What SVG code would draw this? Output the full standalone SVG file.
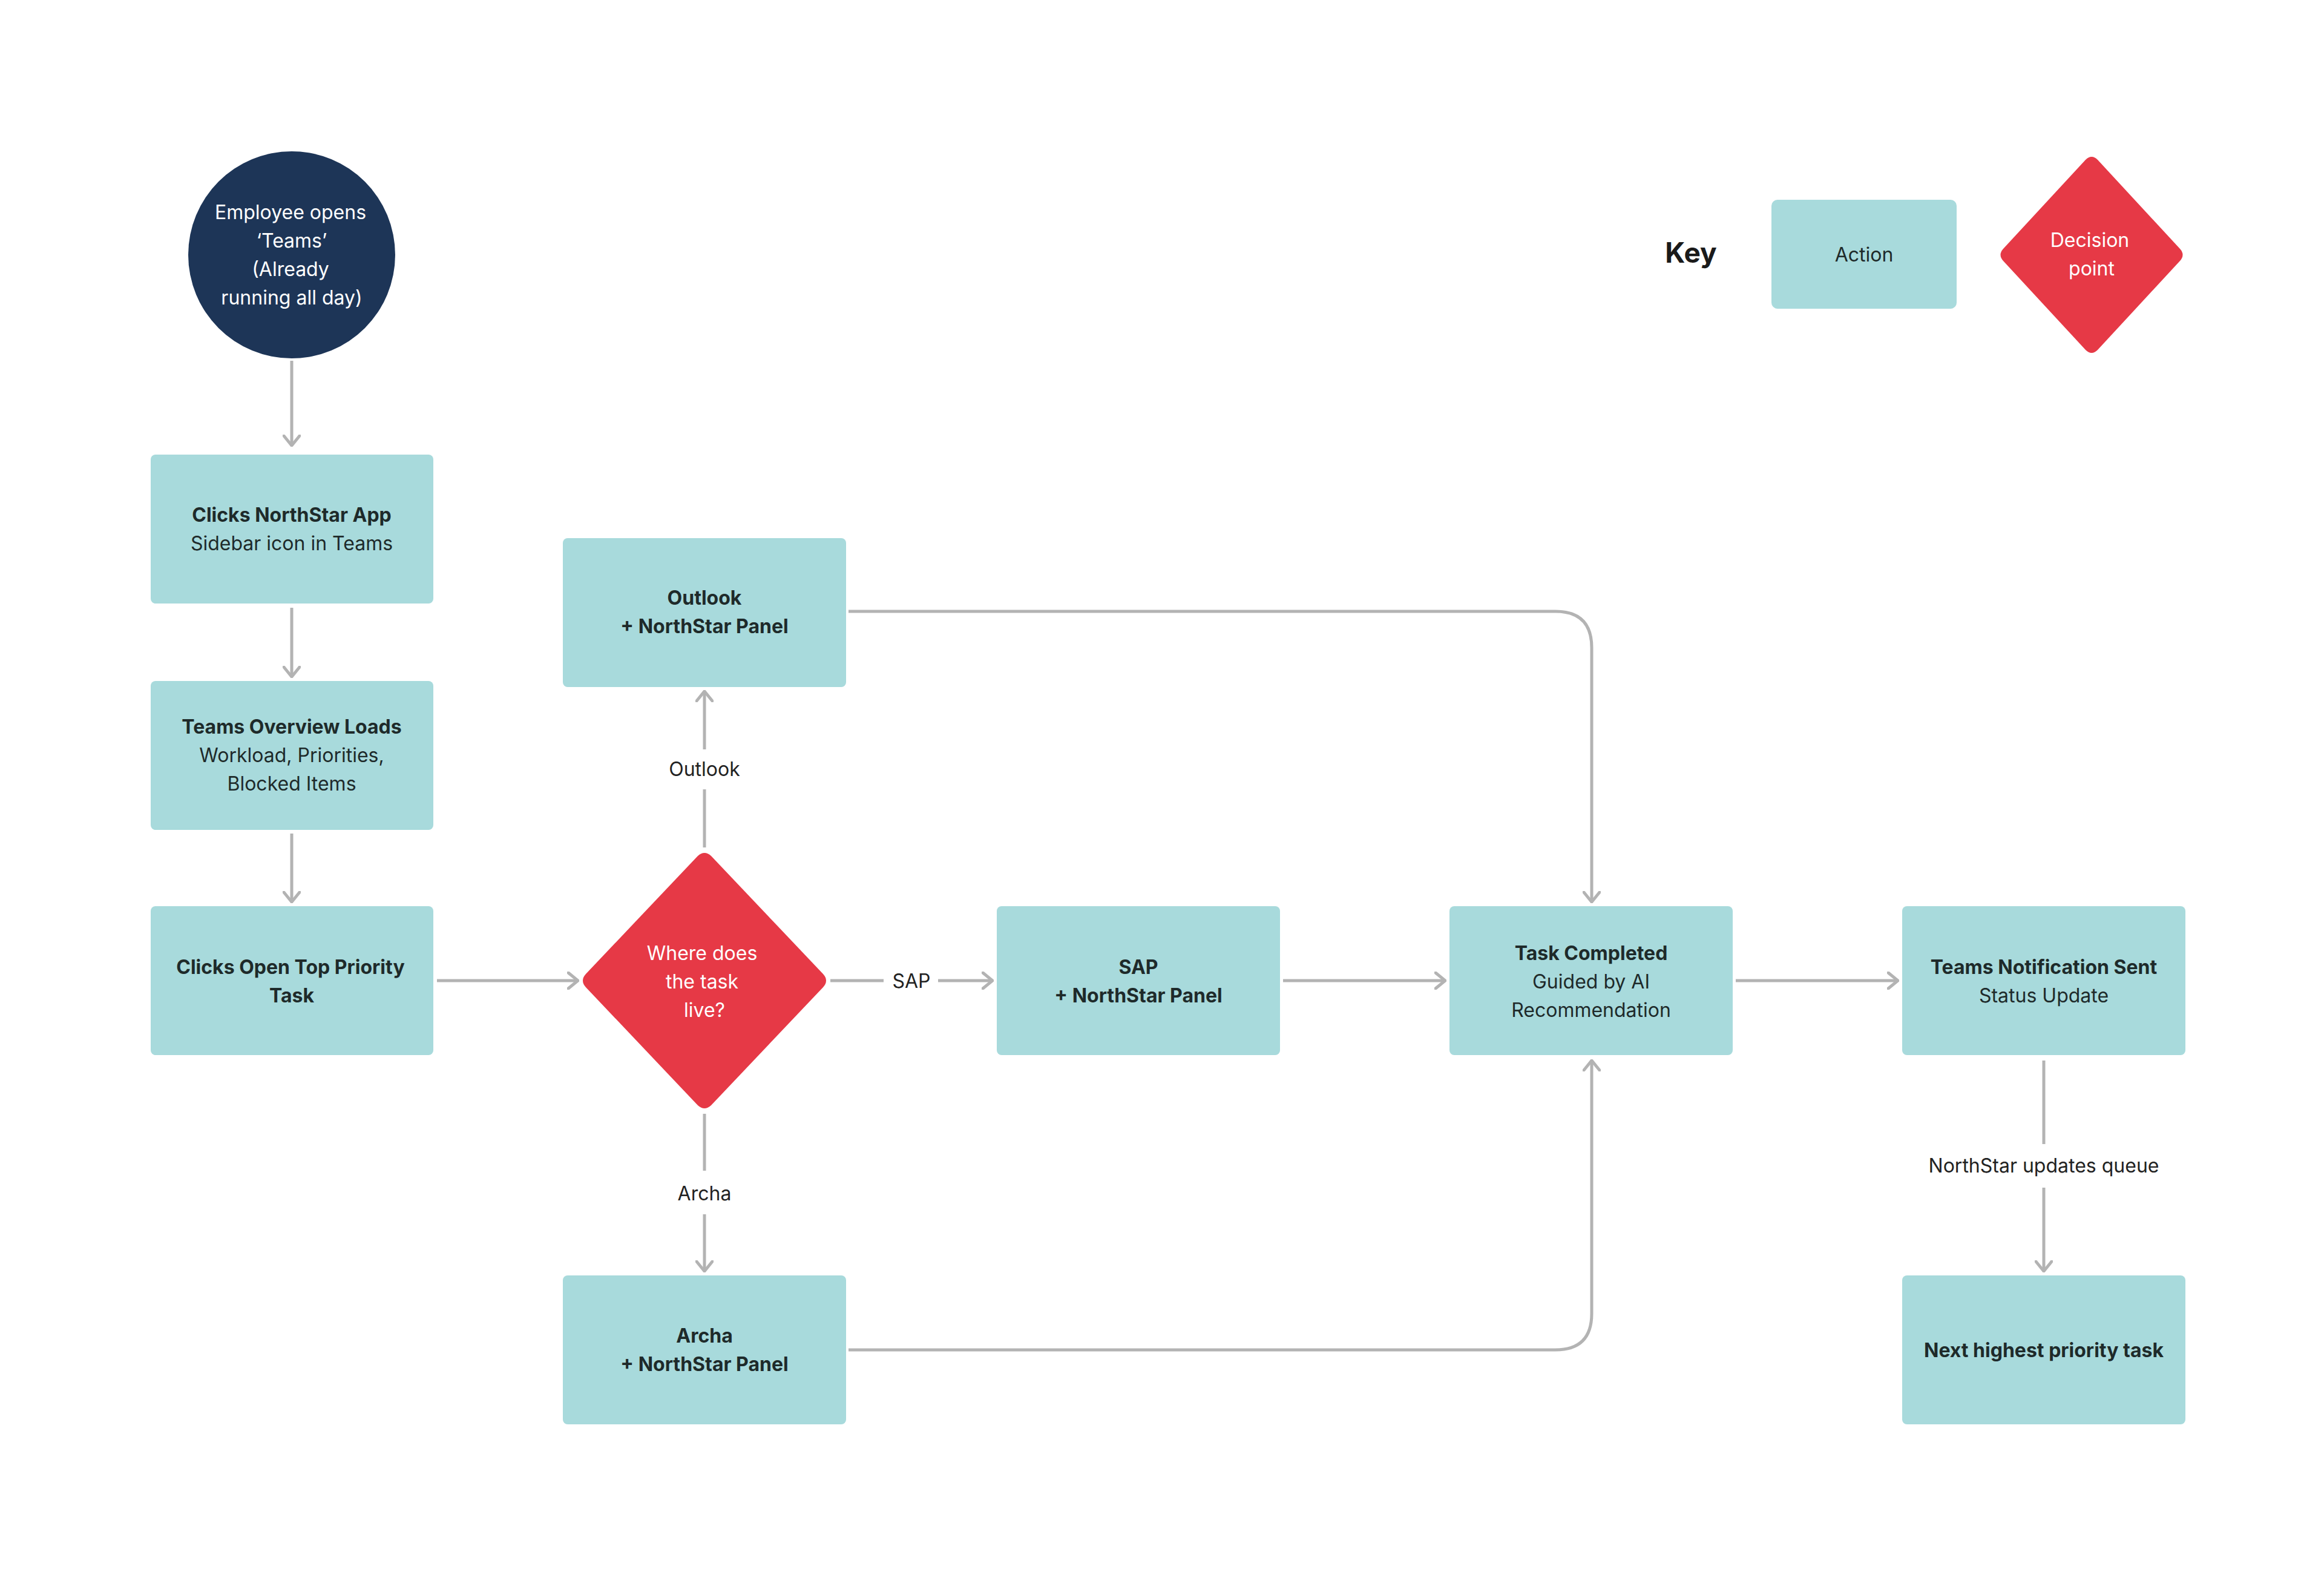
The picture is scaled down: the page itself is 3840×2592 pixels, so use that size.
<svg xmlns="http://www.w3.org/2000/svg" width="3840" height="2592" viewBox="0 0 3840 2592">
<defs>
<marker id="ah" viewBox="0 0 20 30" refX="18" refY="15" markerWidth="20" markerHeight="30" markerUnits="userSpaceOnUse" orient="auto">
<path d="M2,2 L18,15 L2,28" fill="none" stroke="#b3b3b3" stroke-width="5" stroke-linecap="round"/>
</marker>
</defs>
<style>
text{font-family:Inter,"Noto Sans",sans-serif;font-size:32px;text-anchor:middle;fill:#1e2a2a}
.b{font-weight:700}
.w{fill:#fff}
.box{fill:#a8dadc}
.dia{fill:#e63946}
.c{fill:none;stroke:#b3b3b3;stroke-width:5}
.lab{fill:#222}
</style>
<rect width="3840" height="2592" fill="#fff"/>
<g id="connectors">
<path class="c" d="M482,596 V736" marker-end="url(#ah)"/>
<path class="c" d="M482,1004 V1118" marker-end="url(#ah)"/>
<path class="c" d="M482,1377 V1490" marker-end="url(#ah)"/>
<path class="c" d="M722,1620 H955" marker-end="url(#ah)"/>
<path class="c" d="M1164,1400 V1304 M1164,1238 V1142" marker-end="url(#ah)"/>
<path class="c" d="M1372,1620 H1460 M1550,1620 H1640" marker-end="url(#ah)"/>
<path class="c" d="M2120,1620 H2388" marker-end="url(#ah)"/>
<path class="c" d="M2868,1620 H3136" marker-end="url(#ah)"/>
<path class="c" d="M1402,1010 H2570 Q2630,1010 2630,1070 V1490" marker-end="url(#ah)"/>
<path class="c" d="M1402,2230 H2570 Q2630,2230 2630,2170 V1752" marker-end="url(#ah)"/>
<path class="c" d="M1164,1840 V1934 M1164,2006 V2100" marker-end="url(#ah)"/>
<path class="c" d="M3377,1752 V1890 M3377,1962 V2100" marker-end="url(#ah)"/>
<text class="lab" x="1164" y="1282">Outlook</text>
<text class="lab" x="1506" y="1632">SAP</text>
<text class="lab" x="1164" y="1983">Archa</text>
<text class="lab" x="3377" y="1937">NorthStar updates queue</text>
</g>
<g id="start">
<circle cx="482" cy="421" r="171" fill="#1d3557"/>
<text class="w" x="480" y="362">Employee opens</text>
<text class="w" x="482" y="409">‘Teams’</text>
<text class="w" x="480" y="456">(Already</text>
<text class="w" x="482" y="503">running all day)</text>
</g>
<g id="clicks-app"><rect class="box" x="249" y="751" width="467" height="246" rx="8"/>
<text class="b" x="482" y="862">Clicks NorthStar App</text><text x="482" y="909">Sidebar icon in Teams</text></g>
<g id="overview"><rect class="box" x="249" y="1125" width="467" height="246" rx="8"/>
<text class="b" x="482" y="1212">Teams Overview Loads</text><text x="482" y="1259">Workload, Priorities,</text><text x="482" y="1306">Blocked Items</text></g>
<g id="open-task"><rect class="box" x="249" y="1497" width="467" height="246" rx="8"/>
<text class="b" x="480" y="1609">Clicks Open Top Priority</text><text class="b" x="482" y="1656">Task</text></g>
<g id="decision"><path class="dia" d="M1153,1414 Q1164,1404 1175,1414 L1360,1609 Q1370,1620 1360,1631 L1175,1826 Q1164,1836 1153,1826 L968,1631 Q958,1620 968,1609 Z"/>
<text class="w" x="1160" y="1586">Where does</text><text class="w" x="1160" y="1633">the task</text><text class="w" x="1164" y="1680">live?</text></g>
<g id="outlook"><rect class="box" x="930" y="889" width="468" height="246" rx="8"/>
<text class="b" x="1164" y="999">Outlook</text><text class="b" x="1164" y="1046">+ NorthStar Panel</text></g>
<g id="sap"><rect class="box" x="1647" y="1497" width="468" height="246" rx="8"/>
<text class="b" x="1881" y="1609">SAP</text><text class="b" x="1881" y="1656">+ NorthStar Panel</text></g>
<g id="archa"><rect class="box" x="930" y="2107" width="468" height="246" rx="8"/>
<text class="b" x="1164" y="2218">Archa</text><text class="b" x="1164" y="2265">+ NorthStar Panel</text></g>
<g id="completed"><rect class="box" x="2395" y="1497" width="468" height="246" rx="8"/>
<text class="b" x="2629" y="1586">Task Completed</text><text x="2629" y="1633">Guided by AI</text><text x="2629" y="1680">Recommendation</text></g>
<g id="notification"><rect class="box" x="3143" y="1497" width="468" height="246" rx="8"/>
<text class="b" x="3377" y="1609">Teams Notification Sent</text><text x="3377" y="1656">Status Update</text></g>
<g id="next"><rect class="box" x="3143" y="2107" width="468" height="246" rx="8"/>
<text class="b" x="3377" y="2242">Next highest priority task</text></g>
<g id="key">
<text class="b" x="2794" y="434" style="font-size:46px;fill:#1a1a1a">Key</text>
<rect class="box" x="2927" y="330" width="306" height="180" rx="10"/>
<text x="3080" y="432">Action</text>
<path class="dia" d="M3446,264 Q3456,254 3466,264 L3602,411 Q3611,421 3602,431 L3466,578 Q3456,588 3446,578 L3310,431 Q3301,421 3310,411 Z"/>
<text class="w" x="3453" y="408">Decision</text><text class="w" x="3456" y="455">point</text>
</g>
</svg>
